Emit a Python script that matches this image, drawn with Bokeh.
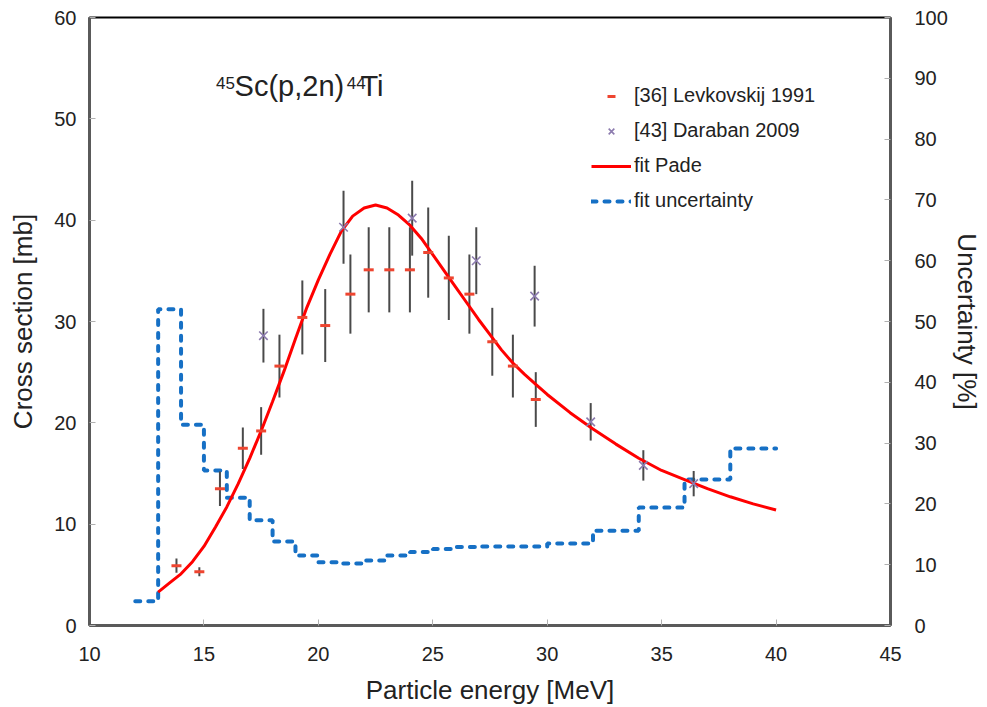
from bokeh.plotting import figure
from bokeh.models import Range1d, LinearAxis, FixedTicker, Legend, LegendItem, Label
from bokeh.embed import file_html
from bokeh.resources import INLINE

# ---------------- data ----------------
lev_energy = [13.8, 14.8, 15.7, 16.7, 17.5, 18.3, 19.3, 20.3, 21.4, 22.2, 23.1, 24.0, 24.8, 25.7, 26.6, 27.6, 28.5, 29.5]
lev_xs = [5.9, 5.3, 13.5, 17.5, 19.2, 25.6, 30.4, 29.6, 32.7, 35.1, 35.1, 35.1, 36.8, 34.3, 32.7, 28.0, 25.6, 22.3]
lev_err = [0.7, 0.45, 1.7, 2.05, 2.35, 3.1, 3.65, 3.6, 3.9, 4.2, 4.2, 4.2, 4.45, 4.15, 3.9, 3.35, 3.1, 2.7]

dar_energy = [17.6, 21.1, 24.1, 26.9, 29.45, 31.9, 34.2, 36.4]
dar_xs = [28.6, 39.3, 40.2, 36.0, 32.5, 20.1, 15.8, 14.0]
dar_err = [2.65, 3.6, 3.7, 3.3, 3.0, 1.85, 1.5, 1.25]

fit_energy = [13, 13.5, 14, 14.5, 15, 15.5, 16, 16.5, 17, 17.5, 18, 18.5, 19, 19.5, 20, 20.5, 21, 21.5,
              22, 22.5, 23, 23.5, 24, 24.5, 25, 25.5, 26, 26.5, 27, 27.5, 28, 28.5, 29, 29.5, 30,
              31, 32, 33, 34, 35, 36, 37, 38, 39, 40]
fit_xs = [3.3, 4.2, 5.1, 6.3, 7.8, 9.7, 11.7, 14.0, 16.5, 19.2, 22.1, 25.1, 28.3, 31.4, 34.1, 36.6, 38.9, 40.4,
          41.2, 41.5, 41.2, 40.5, 39.5, 38.2, 36.6, 35.0, 33.4, 31.8, 30.2, 28.7, 27.2, 25.9, 24.8, 23.8, 22.8,
          21.0, 19.4, 17.9, 16.5, 15.3, 14.4, 13.5, 12.7, 12.0, 11.4]

unc_edges = [12, 13, 14, 15, 16, 17, 18, 19, 20, 21, 22, 23, 24, 25, 26, 27, 28, 29, 30, 32, 34, 36, 38, 40]
unc_pct = [4.0, 52.0, 33.0, 25.5, 21.0, 17.3, 13.8, 11.5, 10.4, 10.2, 10.7, 11.5, 12.1, 12.6, 12.9,
           13.0, 13.0, 13.0, 13.5, 15.6, 19.4, 24.0, 29.1]

x_ticks = [10, 15, 20, 25, 30, 35, 40, 45]
y_ticks = [0, 10, 20, 30, 40, 50, 60]
unc_ticks = [0, 10, 20, 30, 40, 50, 60, 70, 80, 90, 100]

FONT = "Liberation Sans"
TXT = "#222222"

p = figure(width=987, height=707, output_backend="svg", toolbar_location=None,
           x_range=Range1d(10, 45), y_range=Range1d(0, 60),
           min_border_left=89, min_border_right=97, min_border_top=17, min_border_bottom=82)
p.extra_y_ranges = {"unc": Range1d(0, 100)}
p.grid.visible = False
p.outline_line_color = "black"
p.outline_line_width = 2
p.background_fill_color = "white"
p.border_fill_color = "white"

# axes styling
def style_axis(ax):
    ax.axis_line_color = "#5a5a5a"
    ax.axis_line_width = 3
    ax.major_tick_in = 6
    ax.major_tick_out = 0
    ax.major_tick_line_color = "#b0b0b0"
    ax.minor_tick_line_color = None
    ax.major_label_text_font = FONT
    ax.major_label_text_font_size = "20px"
    ax.major_label_text_color = TXT
    ax.axis_label_text_font = FONT
    ax.axis_label_text_font_size = "26px"
    ax.axis_label_text_font_style = "normal"
    ax.axis_label_text_color = TXT

xa = p.xaxis[0]
xa.ticker = FixedTicker(ticks=x_ticks)
xa.axis_label = "Particle energy [MeV]"
style_axis(xa)
xa.major_label_standoff = 21
xa.axis_label_standoff = 11

ya = p.yaxis[0]
ya.ticker = FixedTicker(ticks=y_ticks)
ya.axis_label = "Cross section [mb]"
style_axis(ya)
ya.major_label_standoff = 13
ya.axis_label_standoff = 13

ra = LinearAxis(y_range_name="unc", ticker=FixedTicker(ticks=unc_ticks), axis_label="Uncertainty [%]")
style_axis(ra)
ra.major_label_standoff = 24
ra.axis_label_standoff = 1
p.add_layout(ra, "right")

# uncertainty step
r_unc = p.step(x=unc_edges, y=unc_pct + [unc_pct[-1]], mode="after", y_range_name="unc",
               line_color="#1670C5", line_width=4, line_dash="5 8", line_cap="round")

# error bars
p.segment(x0=lev_energy, x1=lev_energy,
          y0=[v - e for v, e in zip(lev_xs, lev_err)], y1=[v + e for v, e in zip(lev_xs, lev_err)],
          line_color="#4a4a4a", line_width=2)
p.segment(x0=dar_energy, x1=dar_energy,
          y0=[v - e for v, e in zip(dar_xs, dar_err)], y1=[v + e for v, e in zip(dar_xs, dar_err)],
          line_color="#4a4a4a", line_width=2)

# fit curve
r_fit = p.line(fit_energy, fit_xs, line_color="#FF0000", line_width=3)

# markers
r_lev = p.scatter(lev_energy, lev_xs, marker="dash", size=10, line_color="#EE4530", line_width=3)
r_dar = p.scatter(dar_energy, dar_xs, marker="x", size=12, line_color="#8C7BAE", line_width=1.6)

legend = Legend(items=[
    LegendItem(label="[36] Levkovskij 1991", renderers=[r_lev]),
    LegendItem(label="[43] Daraban 2009", renderers=[r_dar]),
    LegendItem(label="fit Pade", renderers=[r_fit]),
    LegendItem(label="fit uncertainty", renderers=[r_unc]),
], location=(492, 403))
legend.glyph_width = 40
legend.glyph_height = 20
legend.label_height = 20
legend.label_standoff = 3
legend.spacing = 12
legend.padding = 10
legend.margin = 0
legend.label_text_font = FONT
legend.label_text_font_size = "20px"
legend.label_text_color = TXT
legend.background_fill_alpha = 0
legend.border_line_alpha = 0
p.add_layout(legend)

# reaction title with superscripts
big = "29px"
small = "17px"
for txt, xx, yy, fs in [("45", 15.53, 53.5, small), ("Sc(p,2n)", 16.34, 53.2, big),
                        ("44", 21.24, 53.5, small), ("Ti", 21.84, 53.2, big)]:
    p.add_layout(Label(x=xx, y=yy, text=txt, text_font=FONT, text_font_size=fs,
                       text_color=TXT, text_baseline="alphabetic"))

open("out.html", "w").write(file_html(p, INLINE))
